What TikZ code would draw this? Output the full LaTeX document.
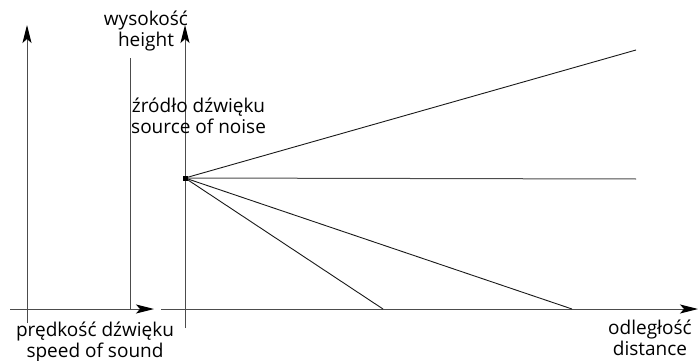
\documentclass[tikz,border=0pt]{standalone}
\usepackage{fontspec}
\setmainfont{Open Sans}
\usetikzlibrary{arrows.meta}
\begin{document}
\begin{tikzpicture}[x=1pt,y=-1pt,
  axis/.style={draw=black!70,line width=1pt},
  ray/.style={draw=black!90,line width=0.9pt},
  tip/.style={-{Stealth[length=18pt,width=9pt,inset=4pt,color=black]}},
  lbl/.style={font=\fontsize{19}{21.5}\selectfont,align=center,text=black,inner sep=0pt}]
\useasboundingbox (0,0) rectangle (699,361);
% coordinates
\coordinate (lb) at (27,323);
\coordinate (lt) at (27,25);
\coordinate (hl) at (10,309);
\coordinate (hr) at (154,309);
\coordinate (vb) at (130,309);
\coordinate (vt) at (130,58);
\coordinate (rb) at (185,328);
\coordinate (rt) at (185,25);
\coordinate (dl) at (161,309);
\coordinate (dr) at (698,309);
\coordinate (s) at (185,178);
\coordinate (e1) at (636,50);
\coordinate (e2) at (636,179);
\coordinate (e3) at (383,309);
\coordinate (e4) at (572,309);
% axes
\draw[axis,tip] (lb) -- (lt);
\draw[axis,tip] (hl) -- (hr);
\draw[axis] (vb) -- (vt);
\draw[axis,tip] (rb) -- (rt);
\draw[axis,tip] (dl) -- (dr);
% rays
\draw[ray] (s) -- (e1);
\draw[axis] (s) -- (e2);
\draw[ray] (s) -- (e3);
\draw[ray] (s) -- (e4);
\node[fill=black,minimum size=5pt,inner sep=0pt] (src) at (s) {};
% labels
\node[lbl] (hgt) at (146,31) {wysokość\\height};
\node[lbl,anchor=west] (srcl) at (131,116) {źródło dźwięku\\source of noise};
\node[lbl] (spd) at (95,342) {prędkość dźwięku\\speed of sound};
\node[lbl] (dst) at (650,338) {odległość\\distance};
\end{tikzpicture}
\end{document}
